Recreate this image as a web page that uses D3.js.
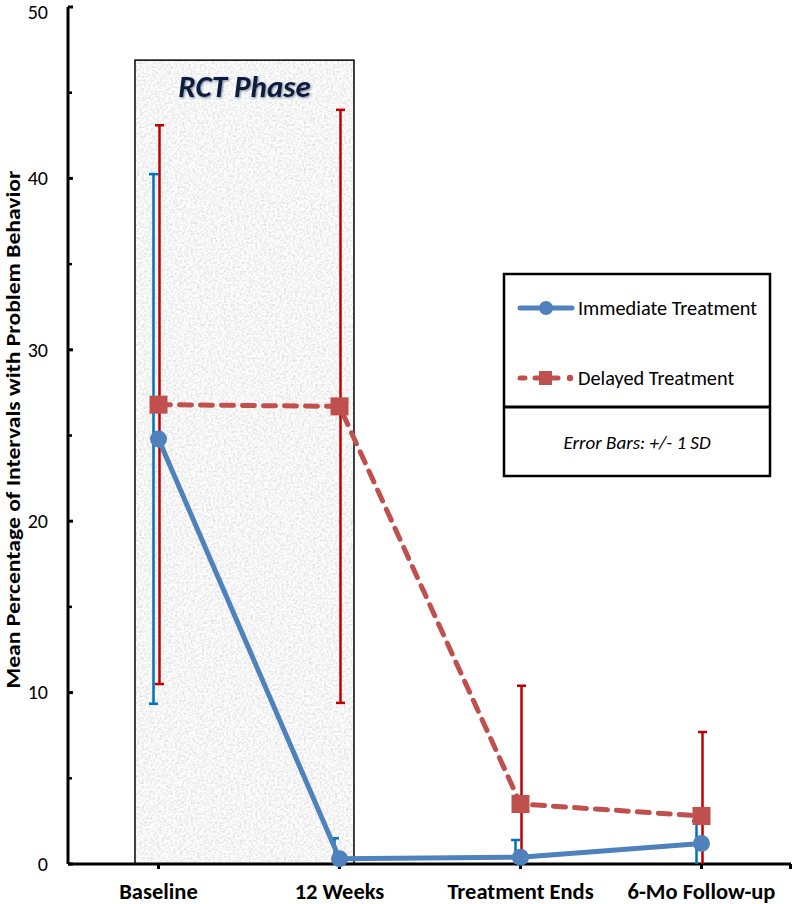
<!DOCTYPE html>
<html>
<head>
<meta charset="utf-8">
<script src="https://cdn.jsdelivr.net/npm/d3@7"></script>
<style>
  html, body { margin: 0; padding: 0; background: #fff; }
  svg { display: block; }
</style>
</head>
<body>
<div id="chart"></div>
<script>
// ---- Data ----
const categories = ["Baseline", "12 Weeks", "Treatment Ends", "6-Mo Follow-up"];
const immediateMean = [24.8, 0.3, 0.4, 1.2];
const immediateSD   = [15.45, 1.2, 1.0, 1.3];
const delayedMean   = [26.8, 26.7, 3.5, 2.8];
const delayedSD     = [16.3, 17.3, 6.9, 4.9];
const yTicks = [0, 10, 20, 30, 40, 50];
const yMinorTicks = [5, 15, 25, 35, 45];
const seriesNames = ["Immediate Treatment", "Delayed Treatment"];
const errorNote = "Error Bars: +/- 1 SD";
const phaseLabel = "RCT Phase";
const phaseRange = [0, 1]; // category indices covered by the RCT phase box
const yTitle = "Mean Percentage of Intervals with Problem Behavior";

// ---- Layout ----
const W = 792, H = 904;
const margin = { left: 68, right: 0, top: 7, bottom: 40 };
const font = "Carlito, Lato, 'Open Sans', sans-serif";

const svg = d3.select("#chart").append("svg").attr("width", W).attr("height", H);

const x = d3.scaleBand().domain(categories).range([margin.left, W - margin.right]).padding(0);
const y = d3.scaleLinear().domain([0, 50]).range([H - margin.bottom, margin.top]);
const cx = c => x(c) + x.bandwidth() / 2;

const defs = svg.append("defs");
const f = defs.append("filter").attr("id", "speckle").attr("x", 0).attr("y", 0).attr("width", 1).attr("height", 1);
f.append("feTurbulence").attr("type", "fractalNoise").attr("baseFrequency", 0.45).attr("numOctaves", 3).attr("seed", 4).attr("result", "t");
f.append("feColorMatrix").attr("in", "t").attr("type", "matrix")
  .attr("values", "0.55 0 0 0 0.64  0.55 0 0 0 0.64  0.55 0 0 0 0.64  0 0 0 0 1").attr("result", "g");
f.append("feComposite").attr("in", "g").attr("in2", "SourceAlpha").attr("operator", "in");

const sh = defs.append("filter").attr("id", "glow").attr("x", -0.2).attr("y", -0.5).attr("width", 1.4).attr("height", 2);
sh.append("feDropShadow").attr("dx", 1).attr("dy", 1).attr("stdDeviation", 1.2).attr("flood-color", "#5a6a8a").attr("flood-opacity", 0.8);

// ---- RCT phase box ----
const boxX0 = x(categories[phaseRange[0]]) + x.bandwidth() * 0.37;
const boxX1 = x(categories[phaseRange[1]]) + x.bandwidth() * 0.58;
const boxTop = y(46.9);
svg.append("rect").attr("x", boxX0).attr("y", boxTop).attr("width", boxX1 - boxX0).attr("height", y(0) - boxTop)
  .attr("fill", "#e6e6e6").attr("filter", "url(#speckle)");
svg.append("rect").attr("x", boxX0).attr("y", boxTop).attr("width", boxX1 - boxX0).attr("height", y(0) - boxTop)
  .attr("fill", "none").attr("stroke", "#000").attr("stroke-width", 1.5);
svg.append("text").attr("x", (boxX0 + boxX1) / 2).attr("y", boxTop + 37)
  .attr("text-anchor", "middle").attr("font-family", font).attr("font-weight", "bold").attr("font-style", "italic")
  .attr("font-size", 31).attr("fill", "#0b1a3c").attr("filter", "url(#glow)").text(phaseLabel);

// ---- Axes ----
const yAxis = svg.append("g");
yAxis.append("line").attr("x1", margin.left).attr("x2", margin.left).attr("y1", y(50)).attr("y2", y(0))
  .attr("stroke", "#000").attr("stroke-width", 3);
yTicks.forEach(t => {
  yAxis.append("line").attr("x1", margin.left).attr("x2", margin.left + 5).attr("y1", y(t)).attr("y2", y(t))
    .attr("stroke", "#000").attr("stroke-width", 3);
  yAxis.append("text").attr("x", margin.left - 20).attr("y", Math.max(y(t), 12)).attr("dy", "0.34em").attr("text-anchor", "end")
    .attr("font-family", font).attr("font-size", 20).attr("fill", "#000").text(t);
});
yMinorTicks.forEach(t => {
  yAxis.append("line").attr("x1", margin.left).attr("x2", margin.left + 4).attr("y1", y(t)).attr("y2", y(t))
    .attr("stroke", "#000").attr("stroke-width", 2.5);
});
svg.append("text").attr("transform", `translate(20, ${y(25) - 6}) rotate(-90)`).attr("text-anchor", "middle")
  .attr("font-family", font).attr("font-weight", "bold").attr("font-size", 20)
  .attr("textLength", 518).attr("lengthAdjust", "spacingAndGlyphs").text(yTitle);

const xAxis = svg.append("g");
xAxis.append("line").attr("x1", margin.left).attr("x2", W - 1).attr("y1", y(0)).attr("y2", y(0))
  .attr("stroke", "#000").attr("stroke-width", 3);
categories.forEach(c => {
  xAxis.append("line").attr("x1", cx(c)).attr("x2", cx(c)).attr("y1", y(0)).attr("y2", y(0) + 5)
    .attr("stroke", "#000").attr("stroke-width", 3);
  xAxis.append("text").attr("x", cx(c)).attr("y", y(0) + 35).attr("text-anchor", "middle")
    .attr("font-family", font).attr("font-weight", "bold").attr("font-size", 22.5).text(c);
});
xAxis.append("line").attr("x1", W - 1.5).attr("x2", W - 1.5).attr("y1", y(0)).attr("y2", y(0) + 5)
  .attr("stroke", "#000").attr("stroke-width", 3);

// ---- Error bars ----
function errorBars(means, sds, color, dx) {
  const g = svg.append("g");
  categories.forEach((c, i) => {
    const xp = cx(c) + dx;
    const hi = means[i] + sds[i];
    const lo = Math.max(0, means[i] - sds[i]);
    g.append("line").attr("x1", xp).attr("x2", xp).attr("y1", y(hi)).attr("y2", y(lo))
      .attr("stroke", color).attr("stroke-width", 2.5);
    g.append("line").attr("x1", xp - 4.5).attr("x2", xp + 4.5).attr("y1", y(hi)).attr("y2", y(hi))
      .attr("stroke", color).attr("stroke-width", 2.5);
    if (means[i] - sds[i] > 0) {
      g.append("line").attr("x1", xp - 4.5).attr("x2", xp + 4.5).attr("y1", y(lo)).attr("y2", y(lo))
        .attr("stroke", color).attr("stroke-width", 2.5);
    }
  });
}
errorBars(delayedMean, delayedSD, "#c00000", 1);
errorBars(immediateMean, immediateSD, "#0070c0", -5);

// ---- Lines ----
const blue = "#4f81bd", red = "#c0504d";
const line = d3.line().x((d, i) => cx(categories[i])).y(d => y(d));
svg.append("path").datum(delayedMean).attr("d", line).attr("fill", "none").attr("stroke", red)
  .attr("stroke-width", 5).attr("stroke-dasharray", "12 9").attr("stroke-linecap", "round");
svg.append("path").datum(immediateMean).attr("d", line).attr("fill", "none").attr("stroke", blue)
  .attr("stroke-width", 5).attr("stroke-linecap", "round");

svg.selectAll(".sq").data(delayedMean).enter().append("rect")
  .attr("x", (d, i) => cx(categories[i]) - 9).attr("y", d => y(d) - 9)
  .attr("width", 18).attr("height", 18).attr("fill", red);
svg.selectAll(".ci").data(immediateMean).enter().append("circle")
  .attr("cx", (d, i) => cx(categories[i])).attr("cy", d => y(d)).attr("r", 8.5).attr("fill", blue);

// ---- Legend ----
const lg = svg.append("g");
const lx0 = 504, lx1 = 770, ly0 = 274, lyMid = 407, ly1 = 476;
lg.append("rect").attr("x", lx0).attr("y", ly0).attr("width", lx1 - lx0).attr("height", ly1 - ly0)
  .attr("fill", "#fff").attr("stroke", "#000").attr("stroke-width", 2.5);
lg.append("line").attr("x1", lx0).attr("x2", lx1).attr("y1", lyMid).attr("y2", lyMid)
  .attr("stroke", "#000").attr("stroke-width", 3);

const ly1e = 308, ly2e = 378;
lg.append("line").attr("x1", 520).attr("x2", 572).attr("y1", ly1e).attr("y2", ly1e)
  .attr("stroke", blue).attr("stroke-width", 5).attr("stroke-linecap", "round");
lg.append("circle").attr("cx", 546).attr("cy", ly1e).attr("r", 7).attr("fill", blue);
lg.append("text").attr("x", 578).attr("y", ly1e).attr("dy", "0.35em").attr("font-family", font)
  .attr("font-size", 20.3).text(seriesNames[0]);

lg.append("line").attr("x1", 520).attr("x2", 572).attr("y1", ly2e).attr("y2", ly2e)
  .attr("stroke", red).attr("stroke-width", 5).attr("stroke-linecap", "round").attr("stroke-dasharray", "5 10 12 100");
lg.append("rect").attr("x", 539).attr("y", ly2e - 7).attr("width", 13).attr("height", 14).attr("fill", red);
lg.append("line").attr("x1", 552).attr("x2", 558).attr("y1", ly2e).attr("y2", ly2e)
  .attr("stroke", red).attr("stroke-width", 5).attr("stroke-linecap", "round");
lg.append("circle").attr("cx", 570).attr("cy", ly2e).attr("r", 3.2).attr("fill", red);
lg.append("text").attr("x", 578).attr("y", ly2e).attr("dy", "0.35em").attr("font-family", font)
  .attr("font-size", 20.3).text(seriesNames[1]);

lg.append("text").attr("x", (lx0 + lx1) / 2).attr("y", 442).attr("dy", "0.35em").attr("text-anchor", "middle")
  .attr("font-family", font).attr("font-style", "italic").attr("font-size", 19).text(errorNote);
</script>
</body>
</html>
